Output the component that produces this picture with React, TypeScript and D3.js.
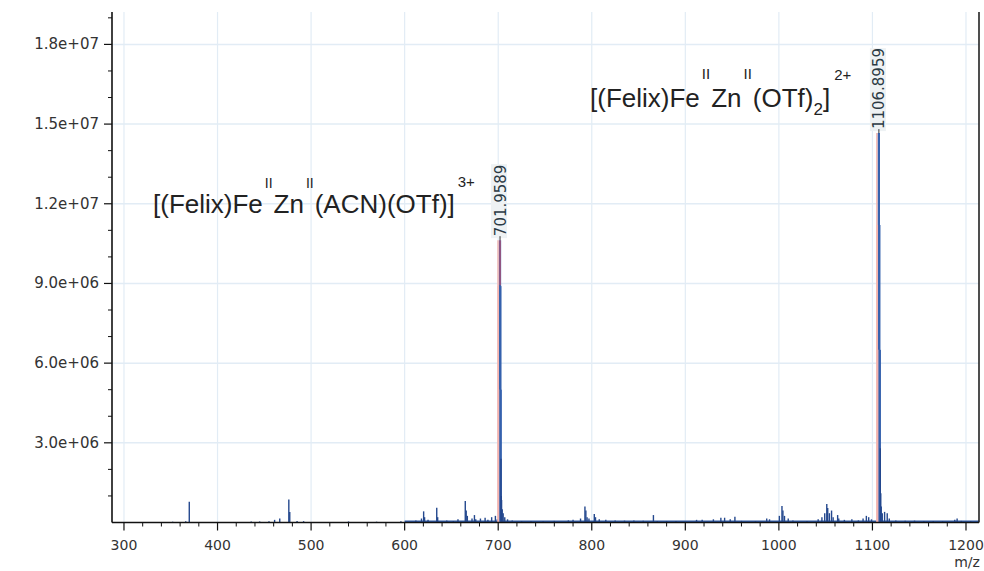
import React from "react";
import * as d3 from "d3";

// ---- data ----
const peakMz: number[] = [
  352, 366, 369.8, 436, 445, 455, 461, 466.5, 476.2, 477.2, 485, 492, 540, 570, 596,
  612, 618, 620.3, 621.3, 625, 634.3, 635.3, 645, 652, 657, 664.8, 665.8, 667, 672, 674.6,
  676, 681, 686, 689, 693, 697, 699, 701.96, 702.29, 702.62, 702.96, 703.29, 703.6, 704.3,
  705.3, 707, 710, 715, 725, 735, 748, 760, 775, 780, 788, 792.7, 793.7, 795, 797, 802.7,
  804, 808, 815, 825, 835, 845, 855, 865.9, 870, 880, 890, 912, 918, 930, 938, 942, 948,
  953, 960, 975, 987, 990, 1000.5, 1003.3, 1004.3, 1006, 1010, 1015, 1030, 1042, 1046,
  1049, 1051.2, 1052.2, 1054, 1056.3, 1058, 1062.8, 1064, 1070, 1078, 1085, 1090, 1093.5,
  1096, 1099, 1106.9, 1107.4, 1107.9, 1108.4, 1108.9, 1109.4, 1110.5, 1113, 1115.8, 1118,
  1125, 1135, 1145, 1155, 1165, 1175, 1188, 1190.5, 1195, 1205,
];
const peakInt: number[] = [
  0.03e6, 0.05e6, 0.78e6, 0.04e6, 0.04e6, 0.05e6, 0.1e6, 0.15e6, 0.87e6, 0.4e6, 0.06e6, 0.05e6, 0.04e6, 0.03e6, 0.05e6,
  0.08e6, 0.15e6, 0.42e6, 0.2e6, 0.1e6, 0.56e6, 0.2e6, 0.08e6, 0.06e6, 0.12e6, 0.81e6, 0.45e6, 0.25e6, 0.15e6, 0.28e6,
  0.12e6, 0.15e6, 0.18e6, 0.1e6, 0.2e6, 0.25e6, 0.12e6, 10.63e6, 8.9e6, 5.0e6, 2.4e6, 1.0e6, 0.85e6, 0.5e6,
  0.35e6, 0.2e6, 0.12e6, 0.08e6, 0.05e6, 0.06e6, 0.05e6, 0.06e6, 0.08e6, 0.1e6, 0.15e6, 0.6e6, 0.45e6, 0.2e6, 0.15e6, 0.32e6,
  0.2e6, 0.12e6, 0.1e6, 0.08e6, 0.07e6, 0.08e6, 0.07e6, 0.28e6, 0.06e6, 0.05e6, 0.06e6, 0.1e6, 0.1e6, 0.12e6, 0.18e6, 0.18e6, 0.12e6,
  0.22e6, 0.06e6, 0.05e6, 0.15e6, 0.12e6, 0.25e6, 0.62e6, 0.45e6, 0.25e6, 0.15e6, 0.08e6, 0.06e6, 0.12e6, 0.2e6,
  0.35e6, 0.7e6, 0.55e6, 0.35e6, 0.45e6, 0.2e6, 0.28e6, 0.15e6, 0.1e6, 0.12e6, 0.08e6, 0.15e6, 0.25e6,
  0.2e6, 0.12e6, 14.66e6, 11.2e6, 6.5e6, 2.8e6, 1.1e6, 0.6e6, 0.35e6, 0.4e6, 0.35e6, 0.15e6,
  0.08e6, 0.07e6, 0.07e6, 0.06e6, 0.06e6, 0.05e6, 0.1e6, 0.15e6, 0.06e6, 0.05e6,
];
const labelMz: number[] = [701.9589, 1106.8959];
const labelInt: number[] = [10.63e6, 14.66e6];
const xTicks: number[] = [300, 400, 500, 600, 700, 800, 900, 1000, 1100, 1200];
const yTicks: number[] = [3e6, 6e6, 9e6, 12e6, 15e6, 18e6];
const yTickLabels: string[] = ["3.0e+06", "6.0e+06", "9.0e+06", "1.2e+07", "1.5e+07", "1.8e+07"];
const xDomain: [number, number] = [287.2, 1213.9];
const yDomain: [number, number] = [0, 19.22e6];

const W = 984;
const H = 571;
const left = 112, right = 979, top = 12, bottom = 522.5;

export default function App() {
  const x = d3.scaleLinear().domain(xDomain).range([left, right]);
  const y = d3.scaleLinear().domain(yDomain).range([bottom, top]);
  const xMinor = d3.range(300, 1213, 20).filter((v) => v % 100 !== 0);
  const yMinor = d3.range(1e6, 19.5e6, 1e6).filter((v) => Math.round(v / 1e6) % 3 !== 0);
  const tickFont = "'DejaVu Sans', Verdana, sans-serif";
  const annFont = "'Liberation Sans', Arial, sans-serif";

  return (
    <svg width={W} height={H} style={{ position: "absolute", left: 0, top: 0, background: "#fff" }}>
      {/* grid */}
      {xTicks.map((t) => (
        <line key={"gx" + t} x1={x(t)} x2={x(t)} y1={top} y2={bottom} stroke="#e2ecf5" strokeWidth={1.2} />
      ))}
      {yTicks.map((t) => (
        <line key={"gy" + t} x1={left} x2={right} y1={y(t)} y2={y(t)} stroke="#e2ecf5" strokeWidth={1.5} />
      ))}

      {/* baseline noise band */}
      <line x1={x(600)} x2={right} y1={y(0) - 1} y2={y(0) - 1} stroke="#2f5aa6" strokeWidth={2} />

      {/* spectrum sticks */}
      {peakMz.map((m, i) => {
        const big = peakInt[i] > 3e6;
        return (
          <g key={"p" + i}>
            {big && (
              <line x1={x(m) - 2} x2={x(m) - 2} y1={y(0)} y2={y(peakInt[i])} stroke="#f3b5b0" strokeWidth={1.5} />
            )}
            <line
              x1={x(m)}
              x2={x(m)}
              y1={y(0)}
              y2={y(peakInt[i])}
              stroke={big ? "#3561ad" : "#24488e"}
              strokeWidth={big ? 2.2 : 1.4}
            />
          </g>
        );
      })}
      {/* red profile tip on the 3+ peak */}
      <line x1={x(labelMz[0])} x2={x(labelMz[0])} y1={y(labelInt[0])} y2={y(labelInt[0] * 0.84)} stroke="#c7506a" strokeWidth={1.2} />

      {/* peak labels */}
      {labelMz.map((m, i) => {
        const px = x(m);
        const py = y(labelInt[i]);
        const txt = m.toFixed(4);
        const len = txt.length * 0.6 * 15;
        return (
          <g key={"lab" + i}>
            <rect x={px - 9} y={py - 4 - len} width={16} height={len + 2} fill="#eef2f4" />
            <line x1={px} x2={px} y1={py} y2={py - 4} stroke="#333" strokeWidth={1} />
            <text
              transform={`translate(${px + 5.5},${py - 4}) rotate(-90)`}
              fontFamily={tickFont}
              fontSize={15}
              fill="#2b3a44"
            >
              {txt}
            </text>
          </g>
        );
      })}

      {/* axes */}
      <line x1={left} x2={left} y1={top} y2={bottom} stroke="#111" strokeWidth={1.6} />
      <line x1={left} x2={right} y1={bottom} y2={bottom} stroke="#111" strokeWidth={1.6} />
      <line x1={right} x2={right} y1={top} y2={bottom} stroke="#222" strokeWidth={1.6} />

      {yTicks.map((t, i) => (
        <g key={"yt" + t}>
          <line x1={left - 8} x2={left} y1={y(t)} y2={y(t)} stroke="#111" strokeWidth={1.2} />
          <text x={left - 13} y={y(t) + 5} textAnchor="end" fontFamily={tickFont} fontSize={15} fill="#333">
            {yTickLabels[i]}
          </text>
        </g>
      ))}
      {yMinor.map((t) => (
        <line key={"ym" + t} x1={left - 4} x2={left} y1={y(t)} y2={y(t)} stroke="#111" strokeWidth={1} />
      ))}
      {xTicks.map((t) => (
        <g key={"xt" + t}>
          <line x1={x(t)} x2={x(t)} y1={bottom} y2={bottom + 8} stroke="#111" strokeWidth={1.2} />
          <text x={x(t)} y={550} textAnchor="middle" fontFamily={tickFont} fontSize={14} fill="#333">
            {t}
          </text>
        </g>
      ))}
      {xMinor.map((t) => (
        <line key={"xm" + t} x1={x(t)} x2={x(t)} y1={bottom} y2={bottom + 4} stroke="#111" strokeWidth={1} />
      ))}
      <text x={x(1200) + 1} y={567} textAnchor="middle" fontFamily={tickFont} fontSize={14} fill="#333">
        m/z
      </text>

      {/* annotations */}
      <text x={153} y={213} fontFamily={annFont} fontSize={26} fill="#222">
        [(Felix)Fe
        <tspan dx={2} dy={-25} fontSize={14} fill="#222">II</tspan>
        <tspan dx={1} dy={25}>Zn</tspan>
        <tspan dx={2} dy={-25} fontSize={14} fill="#222">II</tspan>
        <tspan dx={1} dy={25}>(ACN)(OTf)]</tspan>
        <tspan dx={3} dy={-26} fontSize={15} fill="#222">3+</tspan>
      </text>
      <text x={590} y={107} fontFamily={annFont} fontSize={26} fill="#222">
        [(Felix)Fe
        <tspan dx={2} dy={-28} fontSize={15} fill="#222">II</tspan>
        <tspan dx={1} dy={28}>Zn</tspan>
        <tspan dx={2} dy={-28} fontSize={15} fill="#222">II</tspan>
        <tspan dx={1} dy={28}>(OTf)</tspan>
        <tspan dy={8} fontSize={17}>2</tspan>
        <tspan dy={-8}>]</tspan>
        <tspan dx={4} dy={-27} fontSize={15} fill="#222">2+</tspan>
      </text>
    </svg>
  );
}
